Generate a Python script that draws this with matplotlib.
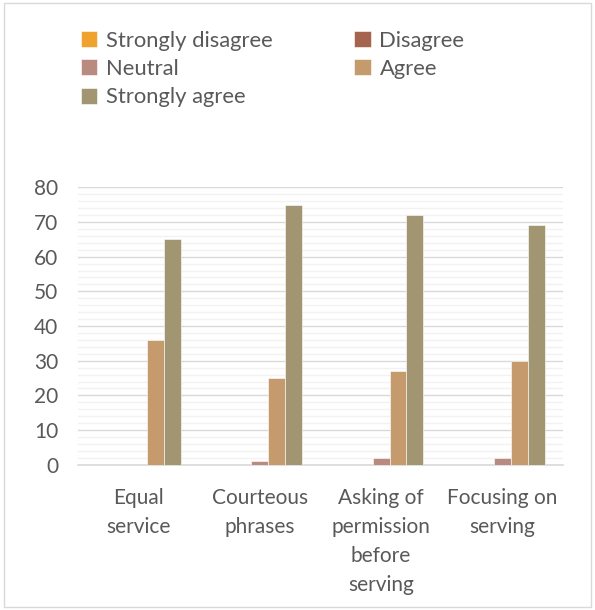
import numpy as np
from matplotlib import pyplot as plt
from matplotlib.patches import Rectangle

categories = ['Equal\nservice', 'Courteous\nphrases', 'Asking of\npermission\nbefore\nserving', 'Focusing on\nserving']
series_names = ['Strongly disagree', 'Disagree', 'Neutral', 'Agree', 'Strongly agree']
strongly_disagree = [0, 0, 0, 0]
disagree = [0, 0, 0, 0]
neutral = [0, 1, 2, 2]
agree = [36, 25, 27, 30]
strongly_agree = [65, 75, 72, 69]
colors = ['#F0A22E', '#A5644E', '#B98B80', '#C59A6C', '#A19671']

plt.rcParams['font.family'] = ['Lato', 'DejaVu Sans']
text_color = '#595959'

fig = plt.figure(figsize=(5.95, 6.1), dpi=100)
ax = fig.add_axes([0.131, 0.238, 0.815, 0.455])

x = np.arange(len(categories))
width = 0.14
all_series = [strongly_disagree, disagree, neutral, agree, strongly_agree]
for i, vals in enumerate(all_series):
    ax.bar(x + (i - 2) * width, vals, width, color=colors[i], label=series_names[i],
           edgecolor='white', linewidth=0.4, zorder=3)

ax.set_xlim(-0.5, len(categories) - 0.5)
ax.set_ylim(0, 80)
ax.set_yticks(range(0, 81, 10))
ax.set_yticks(range(0, 81, 2), minor=True)
ax.grid(axis='y', which='major', color='#D9D9D9', linewidth=1.0, zorder=0)
ax.grid(axis='y', which='minor', color='#F2F2F2', linewidth=1.0, zorder=0)
ax.set_xticks(x)
ax.set_xticklabels(categories, linespacing=1.55, va='top')
ax.tick_params(axis='both', which='both', length=0, labelsize=15, colors=text_color)
ax.tick_params(axis='x', pad=17)
ax.tick_params(axis='y', pad=14)
for s in ['top', 'right', 'left']:
    ax.spines[s].set_visible(False)
ax.spines['bottom'].set_color('#D9D9D9')
ax.spines['bottom'].set_linewidth(1.2)

# legend fills by column, so reorder to read row-wise like the original
handles, labels = ax.get_legend_handles_labels()
order = [0, 2, 4, 1, 3]
leg = fig.legend([handles[k] for k in order], [labels[k] for k in order],
                 loc='upper left', bbox_to_anchor=(0.103, 0.982), ncol=2,
                 frameon=False, fontsize=15.8, handlelength=0.75, handleheight=0.75,
                 handletextpad=0.4, columnspacing=3.7, labelspacing=0.38)
for t in leg.get_texts():
    t.set_color(text_color)

fig.patches.append(Rectangle((0.006, 0.005), 0.988, 0.99, transform=fig.transFigure,
                             fill=False, edgecolor='#D9D9D9', linewidth=1.0))

fig.savefig('out.png', dpi=100)
